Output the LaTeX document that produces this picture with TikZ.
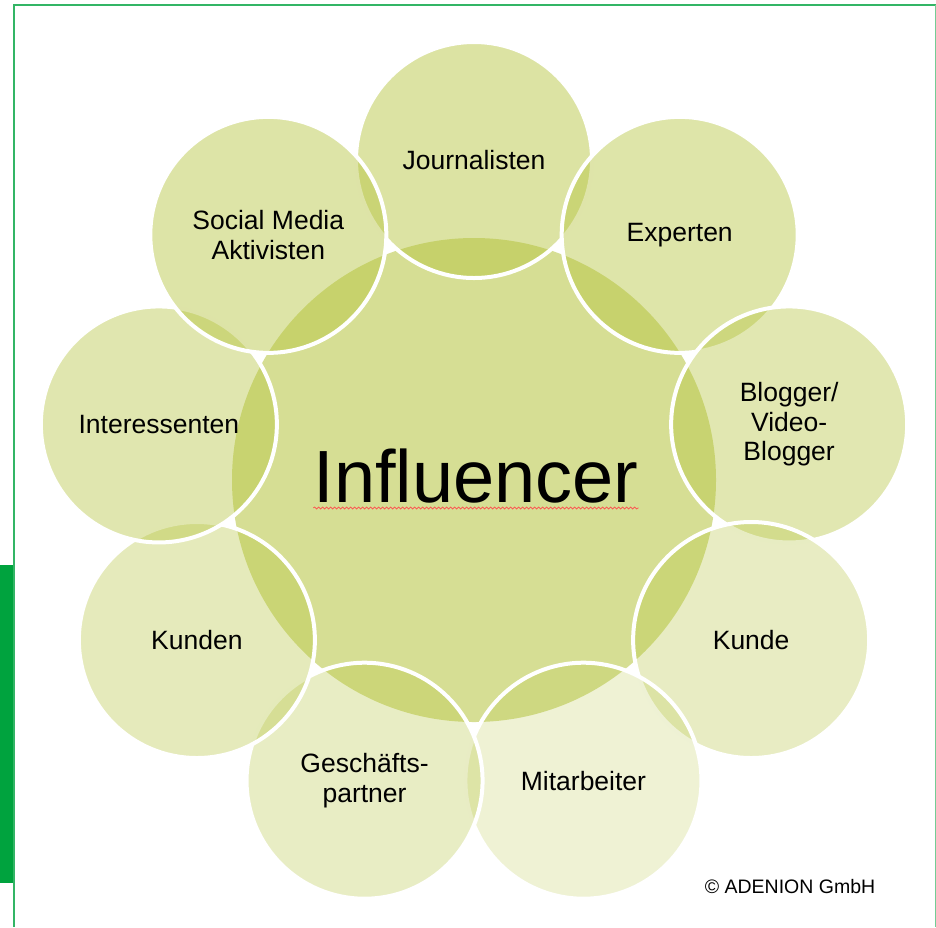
\documentclass[tikz,border=0pt]{standalone}
\usepackage{fontspec}
\setmainfont{Liberation Sans}
\usepackage{tikz}
\usetikzlibrary{decorations.pathmorphing}

\definecolor{venngreen}{RGB}{180,195,60}
\definecolor{adeniongreen}{RGB}{0,163,62}

\tikzset{
  petal/.style={circle, minimum size=236pt, inner sep=0pt, fill=venngreen, draw=white, line width=4pt},
  petaltext/.style={align=center, inner sep=0pt, font=\fontsize{26.5}{29.5}\selectfont},
}

\begin{document}
\begin{tikzpicture}[x=1pt,y=-1pt]
    \useasboundingbox (0,0) rectangle (936,927);

    % frame and side bar
    \fill[adeniongreen] (0,565) rectangle (13,883);
    \draw[adeniongreen!80, line width=2pt] (13.5,927) -- (13.5,4.5) -- (936,4.5);
    \draw[adeniongreen!55, line width=1pt] (935.5,4.5) -- (935.5,927);

    % big circle in the middle
    \node[circle, minimum size=484pt, inner sep=0pt, fill=venngreen, fill opacity=0.55] (hub) at (474,480) {};

    % nine circles around it, clockwise, each one over the one before
    \foreach \a/\op/\name in {90/.47/journ, 50/.44/exp, 10/.40/blog, -30/.31/kunde,
                              -70/.22/mitarb, -110/.30/partner, -150/.35/kunden,
                              170/.41/interes, 130/.45/social} {
        \node[petal, fill opacity=\op] (\name) at ({474+320*cos(\a)},{480-320*sin(\a)}) {};
    }

    % labels
    \foreach \name/\txt in {journ/Journalisten, exp/Experten, blog/{Blogger/\\Video-\\Blogger},
                            kunde/Kunde, mitarb/Mitarbeiter, partner/{Geschäfts-\\partner},
                            kunden/Kunden, interes/Interessenten, social/{Social Media\\Aktivisten}} {
        \node[petaltext] (\name-txt) at (\name) {\txt};
    }

    \node[anchor=base, inner sep=0pt, font=\fontsize{74}{80}\selectfont] (infl) at (476,502) {Influencer};
    \draw[red!70, line width=0.7pt, decorate, decoration={snake, amplitude=1pt, segment length=4pt}]
        ([yshift=-6pt]infl.base west) -- ([yshift=-6pt]infl.base east);

    \node[font=\fontsize{19.5}{22}\selectfont] (copy) at (790,887) {© ADENION GmbH};
\end{tikzpicture}
\end{document}
